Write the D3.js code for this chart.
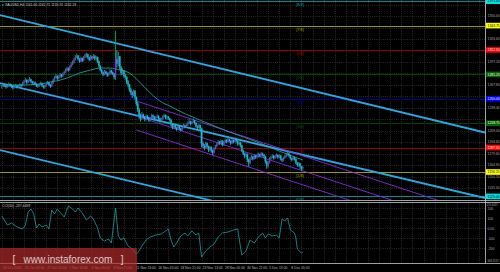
<!DOCTYPE html>
<html><head><meta charset="utf-8">
<script src="https://cdn.jsdelivr.net/npm/d3@7/dist/d3.min.js"></script>
<style>html,body{margin:0;padding:0;background:#000;overflow:hidden}svg{display:block}</style>
</head><body><svg id="c" width="500" height="272"></svg>
<script>
// ---------------- DATA ----------------
const symbolTitle = "\u25BE XAUUSD,H4  1161.66 1162.71 1159.91 1162.18";
const cciTitle = "CCI(50) -237.4498";
const firstOpen = 1265;
const closes = [1266,1268,1267,1265,1266,1269,1268,1266,1264,1266,1267,1265,1266,1268,1267,
1270,1272,1274,1271,1273,1275,1272,1270,1271,1269,1267,
1266,1268,1270,1267,1265,1266,1269,1271,1268,1266,1270,
1274,1277,1279,1276,
1278,1281,1279,1282,1284,
1286,1289,1287,1291,1294,1296,
1300,1303,1305,1301,
1298,1302,1299,
1303,1306,1307,
1303,1300,1304,1302,1305,1301,1303,
1298,1292,1287,
1284,1281,1285,1283,1280,1282,1286,1284,
1282,1278,
1300,
1295,1304,
1290,1283,1286,1280,1278,
1272,1268,1262,1258,
1255,1260,1252,
1244,1236,1228,1225,1230,
1227,1224,1228,1226,1223,1225,1229,1227,1224,1226,1228,1225,1222,1224,1227,1229,1226,1227,1225,1223,
1218,1214,1216,
1213,1211,1215,1212,1210,1213,1216,1214,
1216,1219,1221,1218,1220,1222,1219,
1215,1213,1216,1212,
1193,
1190,1187,1193,1189,1185,1188,
1184,1181,1186,1189,
1192,1195,1193,1196,1191,1194,1197,
1195,1198,1196,1193,1197,1195,1199,1196,
1192,1194,1190,
1184,1180,1177,1179,
1172,1168,1174,
1176,1173,1177,1175,
1178,1179,1177,1180,1178,1176,
1170,1164,1168,1173,
1175,1177,1174,1176,1178,1175,1177,
1173,1171,1174,1176,
1178,1180,1177,
1174,1172,1175,1173,
1168,1165,1167,
1163,1161,1162];
const highs = [1268,1270,1269,1268,1268,1271,1270,1269,1267,1268,1269,1268,1268,1270,1269,
1272,1274,1277,1275,1275,1278,1276,1273,1273,1272,1270,
1269,1270,1272,1271,1268,1268,1271,1273,1272,1269,1272,
1276,1279,1282,1280,
1280,1283,1282,1284,1286,
1289,1291,1290,1293,1297,1299,
1303,1306,1308,1306,
1302,1304,1303,
1305,1308,1309,
1308,1304,1306,1305,1307,1306,1305,
1304,1299,1293,
1288,1285,1287,1286,1284,1284,1288,1287,
1285,1283,
1337,
1312,1310,
1305,1292,1289,1287,1282,
1279,1274,1269,1264,
1260,1262,1261,
1253,1246,1238,1231,1233,
1231,1228,1230,1229,1227,1227,1231,1230,1228,1228,1230,1229,1226,1226,1229,1231,1230,1229,1228,1226,
1224,1219,1218,
1217,1214,1217,1216,1213,1215,1218,1217,
1218,1221,1224,1222,1222,1225,1223,
1220,1216,1218,1217,
1213,
1195,1192,1195,1194,1190,1190,
1189,1185,1188,1191,
1194,1197,1196,1198,1197,1196,1199,
1198,1200,1199,1197,1199,1198,1201,1200,
1197,1196,1195,
1191,1185,1181,1181,
1180,1173,1176,
1178,1177,1179,1178,
1180,1181,1180,1182,1181,1179,
1177,1171,1170,1175,
1177,1179,1178,1178,1180,1179,1179,
1178,1174,1176,1178,
1180,1182,1181,
1178,1175,1177,1176,
1174,1169,1169,
1168,1164,1164];
const lows = [1263,1265,1265,1263,1264,1265,1266,1264,1262,1263,1265,1263,1264,1265,1265,
1266,1269,1271,1269,1270,1272,1270,1268,1268,1267,1265,
1264,1265,1267,1265,1263,1263,1265,1268,1266,1264,1265,
1269,1273,1276,1274,
1275,1277,1277,1278,1281,
1283,1285,1285,1286,1290,1293,
1295,1299,1302,1299,
1296,1297,1297,
1298,1302,1303,
1301,1298,1299,1300,1301,1299,1300,
1296,1290,1285,
1282,1279,1280,1281,1278,1279,1281,1282,
1280,1275,
1274,
1290,1292,
1287,1280,1281,1277,1275,
1269,1265,1259,1255,
1251,1253,1249,
1241,1233,1224,1221,1223,
1225,1221,1222,1224,1220,1221,1224,1225,1222,1222,1225,1223,1219,1220,1223,1226,1224,1223,1223,1221,
1215,1211,1212,
1211,1209,1210,1210,1208,1209,1212,1212,
1213,1215,1218,1216,1217,1219,1217,
1213,1211,1212,1210,
1188,
1187,1184,1186,1187,1182,1183,
1181,1178,1180,1185,
1188,1191,1191,1192,1189,1190,1193,
1193,1194,1194,1191,1192,1193,1194,1194,
1190,1191,1188,
1182,1178,1174,1175,
1169,1163,1166,
1172,1171,1172,1173,
1174,1175,1175,1176,1176,1174,
1167,1160,1162,1167,
1172,1174,1172,1173,1175,1173,1174,
1171,1169,1170,1173,
1175,1177,1175,
1172,1170,1171,1171,
1166,1163,1163,
1160,1158,1159];

// moving average read at sample bars
const maBars   = [0,13,28,35,42,47,56,64,71,78,85,92,100,107,114,121,132,148,164,186,200,217];
const maValues = [1267.6,1267.6,1268.9,1271.5,1274,1276.6,1283,1286.8,1289.4,1289.4,1286.8,1283,1270.2,1257.4,1247.1,1240.7,1231,1219,1207.5,1193.4,1183,1171.6];

// CCI read at sample bars
const cciBars = [0,1,4,7,11,15,17,19,21,23,25,27,29,32,34,36,38,40,43,45,48,51,53,55,58,61,64,66,69,71,74,77,79,82,84,86,88,91,94,97,98,101,104,107,111,115,120,122,124,126,129,132,134,137,140,142,144,147,150,153,156,159,163,167,170,173,176,179,182,185,188,190,192,195,198,200,202,204,206,208,211,212,213,216,217];
const cciValues = [123,103,33,53,13,-7,33,163,193,143,3,43,13,33,-7,183,143,193,143,113,223,193,163,203,153,83,123,93,3,-97,-127,-107,-147,203,-77,-117,-97,-177,-207,-257,-247,-177,-117,-87,-67,-57,-7,-117,-187,-147,-77,-47,-77,-27,-67,-47,-287,-227,-187,-157,-87,-47,-37,-17,-7,-267,-227,-117,-147,-87,-47,-97,-57,-77,-67,-97,93,73,103,-17,-47,-97,-207,-247,-237];

const timeLabels = ["20 Oct 2016","25 Oct 05:00","27 Oct 21:00","1 Nov 13:00","4 Nov 05:00","8 Nov 21:00","11 Nov 13:00","16 Nov 05:00","18 Nov 21:00","23 Nov 13:00","28 Nov 05:00","30 Nov 21:00","5 Dec 13:00","8 Dec 05:00"];
const priceTicks = [1370.70,1356.00,1341.30,1326.60,1311.90,1297.20,1282.50,1267.80,1253.10,1238.40,1223.70,1209.00,1194.30,1179.60,1164.90,1150.20,1135.50,1120.80];
const murrayLevels = [1375.00,1343.75,1312.50,1281.25,1250.00,1218.75,1187.50,1156.25,1125.00];
const murrayNames  = ["[8/8]","[7/8]","[6/8]","[5/8]","[4/8]","[3/8]","[2/8]","[1/8]","[0/8]"];
const cciTicks = [200,100,0,-100,-200];
const cciTickLabels = ["200","100","0.00","-100","-200"];
const cciExtremes = [{v:255, t:"255.6437"},{v:-346, t:"-346.3119"}];

// trend lines: [bar1, price1, bar2, price2]
const channelLines = [[-1.3,1357.3,348.3,1206.8],[-1.3,1270.2,348.3,1122.95],[-1.3,1184.4,348.3,1035.9]];
const regressionLines = [[97,1247.2,348,1100.2],[97,1228.0,348,1081.0],[97,1210.1,348,1063.0]];

// ---------------- STYLE ----------------
const murrayLineColors = ["#008c8c","#9a9a00","#960000","#004400","#00008c","#004400","#960000","#9a9a00","#008c8c"];
const murrayBoxColors  = ["#00e0e0","#ffff00","#ff0000","#006400","#0000ff","#006400","#ff0000","#ffff00","#00e0e0"];
const murrayBoxText    = ["#000","#000","#fff","#fff","#fff","#fff","#fff","#000","#000"];
const murrayTextColors = ["#00a0a0","#a8a800","#b00000","#006000","#0000b0","#006000","#b00000","#a8a800","#00a0a0"];
const FONT = "Liberation Sans, Arial, sans-serif";

// ---------------- CHART ----------------
const svg = d3.select("#c");
const W = 500, H = 272, PR = 485, MAINB = 200, CT = 203, CB = 263;
const x = d3.scaleLinear().domain([0, 348.3]).range([1.8, 485]);
const y = d3.scaleLinear().domain([1156.25, 1375]).range([172, 1.2]);
const yc = d3.scaleLinear().domain([-100, 100]).range([238.3, 218.3]);

svg.append("rect").attr("width", W).attr("height", H).attr("fill", "#000");
const defs = svg.append("defs");
defs.append("clipPath").attr("id","cm").append("rect").attr("x",0).attr("y",0).attr("width",PR).attr("height",MAINB);
defs.append("clipPath").attr("id","cc").append("rect").attr("x",0).attr("y",CT).attr("width",PR).attr("height",CB-CT);

// grid
const grid = svg.append("g").attr("stroke","#3c3c3c").attr("stroke-width",0.7).attr("stroke-dasharray","1,1.2");
d3.range(0, 349, 8).forEach(b => {
  const gx = Math.round(x(b)) + 0.5;
  grid.append("line").attr("x1",gx).attr("x2",gx).attr("y1",0).attr("y2",MAINB);
  grid.append("line").attr("x1",gx).attr("x2",gx).attr("y1",CT).attr("y2",CB);
});
priceTicks.forEach(p => {
  const gy = Math.round(y(p)) + 0.5;
  grid.append("line").attr("x1",0).attr("x2",PR).attr("y1",gy).attr("y2",gy);
});
cciTicks.forEach(v => {
  const gy = Math.round(yc(v)) + 0.5;
  grid.append("line").attr("x1",0).attr("x2",PR).attr("y1",gy).attr("y2",gy);
});

const main = svg.append("g").attr("clip-path","url(#cm)");
// murray lines
murrayLevels.forEach((p,i) => {
  const ly = Math.round(y(p)) + 0.5;
  main.append("line").attr("x1",0).attr("x2",PR).attr("y1",ly).attr("y2",ly)
    .attr("stroke",murrayLineColors[i]).attr("stroke-width",1);
  main.append("text").attr("x",300).attr("y",ly+4).attr("text-anchor","middle")
    .attr("font-family",FONT).attr("font-size",3.8).attr("fill",murrayTextColors[i]).text(murrayNames[i]);
});

// channel lines
channelLines.forEach(l => {
  main.append("line").attr("x1",x(l[0])).attr("y1",y(l[1])).attr("x2",x(l[2])).attr("y2",y(l[3]))
    .attr("stroke","#2aa8e2").attr("stroke-width",1.8);
});
regressionLines.forEach(l => {
  main.append("line").attr("x1",x(l[0])).attr("y1",y(l[1])).attr("x2",x(l[2])).attr("y2",y(l[3]))
    .attr("stroke","#8a2be2").attr("stroke-width",0.9);
});

// candles
const candles = main.append("g");
closes.forEach((c,i) => {
  const o = i === 0 ? firstOpen : closes[i-1];
  const bull = c >= o;
  const cx = x(i);
  const wick = bull ? "#00b060" : "#22b4ea";
  const fill = bull ? "#8a2be2" : "#22b4ea";
  candles.append("line").attr("x1",cx).attr("x2",cx).attr("y1",y(highs[i])).attr("y2",y(lows[i]))
    .attr("stroke",wick).attr("stroke-width",0.9);
  const top = y(Math.max(o,c)), bot = y(Math.min(o,c));
  const h = Math.max(0.8, bot-top);
  candles.append("rect").attr("x",cx-0.7).attr("y",top).attr("width",1.4).attr("height",h)
    .attr("fill", fill).attr("stroke", h > 3 && !bull ? "#00b070" : "none").attr("stroke-width",0.35);
});

// moving average
const maPts = maBars.map((b,i) => [x(b), y(maValues[i])]);
main.append("path").attr("d", d3.line().curve(d3.curveMonotoneX)(maPts))
  .attr("fill","none").attr("stroke","#20b2aa").attr("stroke-width",0.8);

// CCI
const cci = svg.append("g").attr("clip-path","url(#cc)");
const cciPts = cciBars.map((b,i) => [x(b), yc(cciValues[i])]);
cci.append("path").attr("d", d3.line()(cciPts)).attr("fill","none").attr("stroke","#1e9e9e").attr("stroke-width",0.8);

// frames
const fr = svg.append("g").attr("stroke","#c8c8c8").attr("stroke-width",0.8);
fr.append("line").attr("x1",0).attr("x2",W).attr("y1",200.5).attr("y2",200.5);
fr.append("line").attr("x1",0).attr("x2",W).attr("y1",202.5).attr("y2",202.5);
fr.append("line").attr("x1",0).attr("x2",W).attr("y1",263.5).attr("y2",263.5);
fr.append("line").attr("x1",485.5).attr("x2",485.5).attr("y1",0).attr("y2",263.5);

// right axis labels
const ax = svg.append("g").attr("font-family",FONT).attr("font-size",3.4);
const murrayY = murrayLevels.map(p => y(p));
priceTicks.forEach(p => {
  const ty = y(p);
  if (murrayY.some(my => Math.abs(my - ty) < 4)) return;
  if (ty > 198) return;
  ax.append("text").attr("x",487.5).attr("y",ty+1.2).attr("fill","#a8a8a8").text(p.toFixed(2));
});
murrayLevels.forEach((p,i) => {
  const ty = y(p);
  ax.append("rect").attr("x",486).attr("y",ty-2.8).attr("width",14).attr("height",5.6).attr("fill",murrayBoxColors[i]);
  ax.append("text").attr("x",487.5).attr("y",ty+1.2).attr("fill",murrayBoxText[i]).text(p.toFixed(2));
});
cciTicks.forEach((v,i) => {
  ax.append("text").attr("x",487.5).attr("y",yc(v)+1.2).attr("fill","#a8a8a8").text(cciTickLabels[i]);
});
cciExtremes.forEach(e => {
  ax.append("text").attr("x",486.5).attr("y",Math.min(Math.max(yc(e.v)+1.2,206),262)).attr("font-size",2.7)
    .attr("fill","#a8a8a8").text(e.t);
});

// watermark box
svg.append("rect").attr("x",0).attr("y",248).attr("width",137).attr("height",24).attr("fill","#b02a2a").attr("opacity",0.7);

// time labels
timeLabels.forEach((t,k) => {
  ax.append("text").attr("x",x(k*16)+1).attr("y",268.8).attr("fill","#b8b8b8").text(t);
});

// titles
svg.append("text").attr("x",2).attr("y",5.5).attr("font-family",FONT).attr("font-size",3.4).attr("fill","#c8c8c8").text(symbolTitle);
svg.append("text").attr("x",2).attr("y",207).attr("font-family",FONT).attr("font-size",3.4).attr("fill","#c8c8c8").text(cciTitle);

// watermark text
svg.append("text").attr("x",68).attr("y",263).attr("text-anchor","middle").attr("font-family",FONT)
  .attr("font-size",10).attr("fill","#e6e6e6").attr("opacity",0.85).attr("xml:space","preserve")
  .text("[   www.instaforex.com   ]");
</script></body></html>
